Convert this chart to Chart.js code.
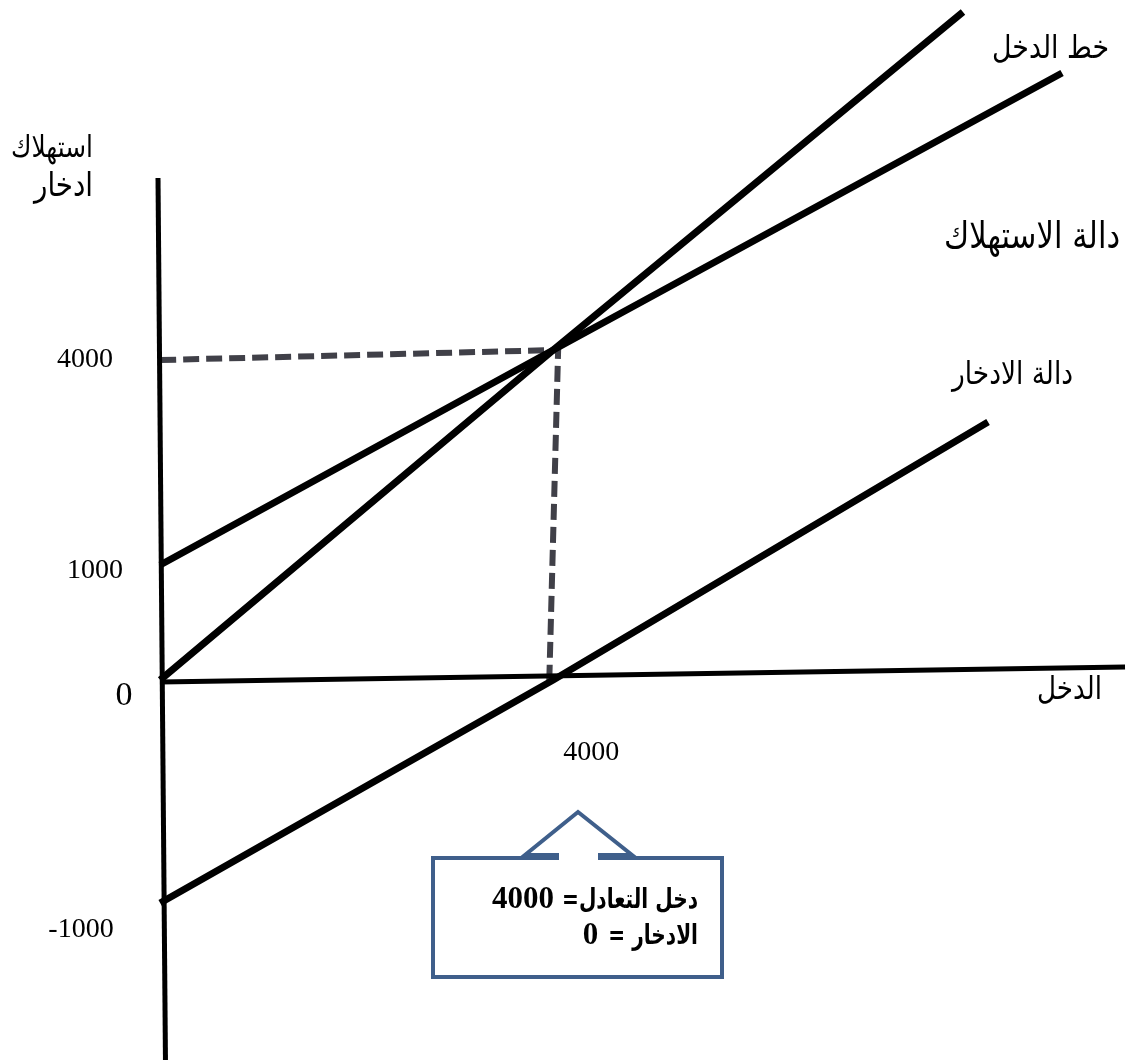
<!DOCTYPE html>
<html>
<head>
<meta charset="utf-8">
<script src="https://cdn.jsdelivr.net/npm/chart.js@4/dist/chart.umd.min.js"></script>
<style>
html,body{margin:0;padding:0;background:#ffffff;}
canvas{display:block;}
</style>
</head>
<body>
<canvas id="chart" width="1132" height="1063"></canvas>
<script>
// ---------------- DATA ----------------
// Income line (45 degree line): income (x) vs. value (y)
const incomeLineX = [0, 4000, 8170];
const incomeLineY = [0, 4000, 8173];
// Consumption function
const consumptionX = [0, 4000, 9178];
const consumptionY = [1000, 4000, 7420];
// Saving function
const savingX = [0, 4000, 8425];
const savingY = [-1000, 0, 2995];
// Dashed guide from the equilibrium point to both axes
const guideX = [0, 4050, 3960];
const guideY = [3860, 4000, 0];
// Hand-drawn axes (slightly tilted in the original)
const xAxisLineX = [0, 9819];
const xAxisLineY = [-9, 113];
const yAxisLineX = [-22, 54];
const yAxisLineY = [6123, -1704];
// Tick labels
const yTickValues = [4000, 1000, 0, -1000];
const yTickLabels = ['4000', '1000', '0', '-1000'];
const xTickValues = [4000];
const xTickLabels = ['4000'];
// Text labels
const yAxisTitle = ['استهلاك', 'ادخار'];
const xAxisTitle = 'الدخل';
const seriesNames = ['خط الدخل', 'دالة الاستهلاك', 'دالة الادخار'];
const calloutLines = ['دخل التعادل= 4000', 'الادخار = 0'];

// ---------------- LAYOUT / STYLE ----------------
const X_MIN = -1630, X_MAX = 9890;
// y scale is schematic (not to scale in the original): value -> fraction of height
const H = 1063;
const Y_KNOTS = [[8321, 0 / H], [4000, 350 / H], [1000, 565 / H], [0, 680 / H], [-1000, 903 / H], [-1717, 1063 / H]];

const yTickLayout = [
  {cx: 85, dy: 17, size: 28},
  {cx: 95, dy: 13, size: 28},
  {cx: 124, dy: 25, size: 34},
  {cx: 81, dy: 34, size: 28}
];
const xTickLayout = [{dx: 38, y: 760, size: 28}];
const arabicFont = '"DejaVu Sans", "Noto Sans", sans-serif';
const serifFont = '"Liberation Serif", "DejaVu Serif", serif';
const ARABIC_STRETCH = 1.2;
const textLayout = [
  {text: yAxisTitle[0], right: 93, base: 157, width: 82, size: 22},
  {text: yAxisTitle[1], right: 93, base: 196, width: 59, size: 22},
  {text: seriesNames[0], right: 1109, base: 58, width: 117, size: 26},
  {text: seriesNames[1], right: 1120, base: 248, width: 176, size: 26},
  {text: seriesNames[2], right: 1073, base: 384, width: 121, size: 21},
  {text: xAxisTitle, right: 1102, base: 699, width: 65, size: 24}
];
const callout = {left: 433, right: 722, top: 858, bottom: 977,
  baseL: 525, stemL: 557, stemR: 600, baseR: 632, baseY: 855, apexX: 578, apexY: 812,
  color: '#3f5f8b', textRight: 698, base1: 908, base2: 944,
  arabicWidth1: 136, numSize: 31, gaps: [8, 10], stretch: 1.35};

// ---------------- Custom schematic scale ----------------
class SchematicScale extends Chart.LinearScale {
  getPixelForValue(value) {
    const k = this.options.knots;
    const span = this.bottom - this.top;
    for (let i = 0; i < k.length - 1; i++) {
      const [v0, f0] = k[i], [v1, f1] = k[i + 1];
      if ((value <= v0 && value >= v1) || (i === 0 && value > v0) || i === k.length - 2) {
        const t = (value - v0) / (v1 - v0);
        return this.top + (f0 + t * (f1 - f0)) * span;
      }
    }
    return this.top;
  }
  getValueForPixel(pixel) {
    const k = this.options.knots;
    const span = this.bottom - this.top;
    const f = (pixel - this.top) / span;
    for (let i = 0; i < k.length - 1; i++) {
      const [v0, f0] = k[i], [v1, f1] = k[i + 1];
      if ((f >= f0 && f <= f1) || (i === 0 && f < f0) || i === k.length - 2) {
        const t = (f - f0) / (f1 - f0);
        return v0 + t * (v1 - v0);
      }
    }
    return 0;
  }
}
SchematicScale.id = 'schematic';
SchematicScale.defaults = Chart.LinearScale.defaults;
Chart.register(SchematicScale);

function pts(xs, ys) { return xs.map((x, i) => ({x: x, y: ys[i]})); }

function fitSize(ctx, text, family, weight, target, nominal) {
  ctx.font = `${weight} ${nominal}px ${family}`;
  const w = ctx.measureText(text).width;
  if (!w) return nominal;
  let s = nominal * target / w;
  s = Math.max(nominal * 0.7, Math.min(nominal * 1.3, s));
  return s;
}

function stretchedText(ctx, text, x, y, sy) {
  ctx.save();
  ctx.translate(x, y);
  ctx.scale(1, sy);
  ctx.fillText(text, 0, 0);
  ctx.restore();
}

const annotationPlugin = {
  id: 'annotations',
  afterDatasetsDraw(chart) {
    const ctx = chart.ctx;
    const xs = chart.scales.x, ys = chart.scales.y;
    ctx.save();
    ctx.fillStyle = '#000000';
    ctx.direction = 'ltr';
    ctx.textBaseline = 'alphabetic';
    ctx.textAlign = 'center';
    // y tick labels
    yTickValues.forEach((v, i) => {
      const L = yTickLayout[i];
      ctx.font = `${L.size}px ${serifFont}`;
      ctx.fillText(yTickLabels[i], L.cx, ys.getPixelForValue(v) + L.dy);
    });
    // x tick labels
    xTickValues.forEach((v, i) => {
      const L = xTickLayout[i];
      ctx.font = `${L.size}px ${serifFont}`;
      ctx.fillText(xTickLabels[i], xs.getPixelForValue(v) + L.dx, L.y);
    });
    // Arabic labels
    ctx.direction = 'rtl';
    ctx.textAlign = 'right';
    textLayout.forEach(L => {
      const s = fitSize(ctx, L.text, arabicFont, 'normal', L.width, L.size);
      ctx.font = `normal ${s}px ${arabicFont}`;
      stretchedText(ctx, L.text, L.right, L.base, ARABIC_STRETCH);
    });
    // Callout
    const c = callout;
    ctx.beginPath();
    ctx.moveTo(c.stemL, c.top);
    ctx.lineTo(c.left, c.top);
    ctx.lineTo(c.left, c.bottom);
    ctx.lineTo(c.right, c.bottom);
    ctx.lineTo(c.right, c.top);
    ctx.lineTo(c.stemR, c.top);
    ctx.lineTo(c.stemR, c.baseY);
    ctx.lineTo(c.baseR, c.baseY);
    ctx.lineTo(c.apexX, c.apexY);
    ctx.lineTo(c.baseL, c.baseY);
    ctx.lineTo(c.stemL, c.baseY);
    ctx.closePath();
    ctx.fillStyle = '#ffffff';
    ctx.fill();
    ctx.lineWidth = 4;
    ctx.lineJoin = 'miter';
    ctx.strokeStyle = c.color;
    ctx.stroke();
    ctx.fillStyle = '#000000';
    // each line: Arabic run (right) followed by the number (left)
    const parts = calloutLines.map(t => {
      const k = t.lastIndexOf(' ');
      return [t.slice(0, k), t.slice(k + 1)];
    });
    const sA = fitSize(ctx, parts[0][0], arabicFont, 'bold', c.arabicWidth1, 24);
    const bases = [c.base1, c.base2];
    parts.forEach((p, i) => {
      ctx.direction = 'rtl';
      ctx.textAlign = 'right';
      ctx.font = `bold ${sA}px ${arabicFont}`;
      stretchedText(ctx, p[0], c.textRight, bases[i], c.stretch);
      const w = ctx.measureText(p[0]).width;
      ctx.direction = 'ltr';
      ctx.textAlign = 'right';
      ctx.font = `bold ${c.numSize}px ${serifFont}`;
      ctx.fillText(p[1], c.textRight - w - c.gaps[i], bases[i]);
    });
    ctx.restore();
  }
};

const solid = {borderColor: '#000000', pointRadius: 0, pointHoverRadius: 0, fill: false, tension: 0, borderCapStyle: 'butt', borderJoinStyle: 'miter'};

new Chart(document.getElementById('chart'), {
  type: 'line',
  data: {
    datasets: [
      Object.assign({}, solid, {label: seriesNames[0], data: pts(incomeLineX, incomeLineY), borderWidth: 7, order: 1}),
      Object.assign({}, solid, {label: seriesNames[1], data: pts(consumptionX, consumptionY), borderWidth: 7, order: 1}),
      Object.assign({}, solid, {label: seriesNames[2], data: pts(savingX, savingY), borderWidth: 7, order: 1}),
      Object.assign({}, solid, {label: 'guide', data: pts(guideX, guideY), borderWidth: 6, borderColor: '#404048', borderDash: [16, 7], order: 5}),
      Object.assign({}, solid, {label: 'x-axis', data: pts(xAxisLineX, xAxisLineY), borderWidth: 5, order: 3}),
      Object.assign({}, solid, {label: 'y-axis', data: pts(yAxisLineX, yAxisLineY), borderWidth: 5, order: 3})
    ]
  },
  options: {
    responsive: false,
    animation: false,
    devicePixelRatio: 1,
    layout: {padding: 0},
    plugins: {legend: {display: false}, tooltip: {enabled: false}, title: {display: false}},
    events: [],
    scales: {
      x: {type: 'linear', min: X_MIN, max: X_MAX, display: false},
      y: {type: 'schematic', min: -1717, max: 8321, display: false, knots: Y_KNOTS}
    }
  },
  plugins: [annotationPlugin]
});
</script>
</body>
</html>
